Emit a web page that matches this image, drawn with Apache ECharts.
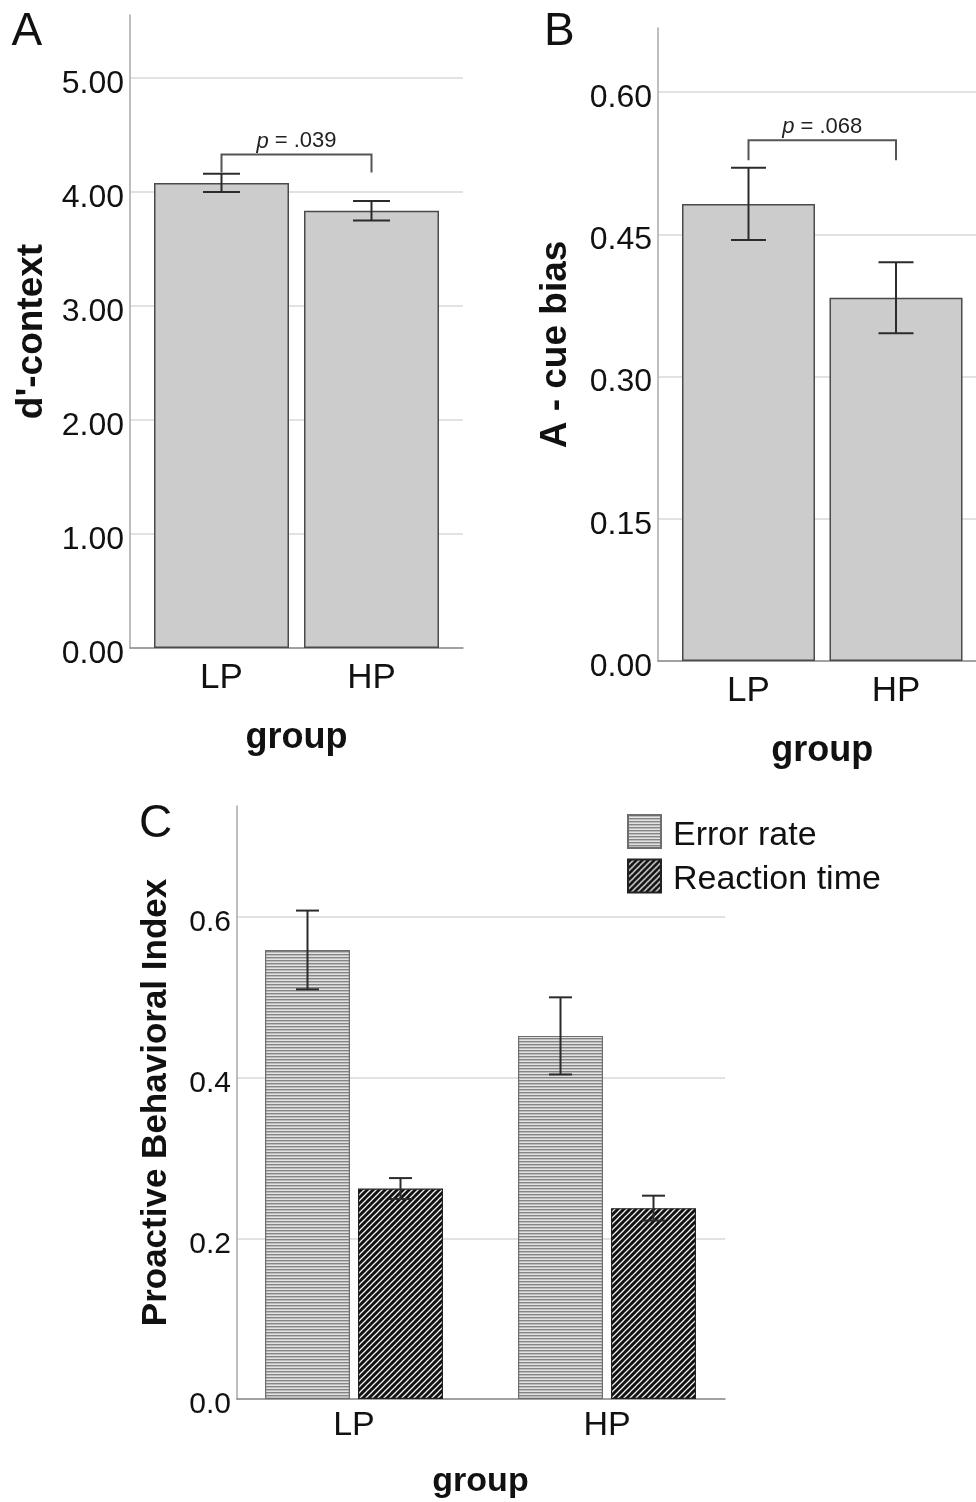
<!DOCTYPE html>
<html><head><meta charset="utf-8">
<script src="https://cdn.jsdelivr.net/npm/echarts@6/dist/echarts.min.js"></script>
<style>html,body{margin:0;padding:0;background:#fff}#c{width:976px;height:1502px}</style>
</head><body><div id="c"></div>
<script>
// ---------- data ----------
const categories = ['LP', 'HP'];
// Panel A: d'-context
const ticksA = [0, 1, 2, 3, 4, 5];
const meanA = [4.08, 3.835];
const seA = [0.08, 0.085];
const bracketA = [4.17, 4.33];   // leg end, bracket top
const pA = '.039';
// Panel B: A - cue bias
const ticksB = [0, 0.15, 0.30, 0.45, 0.60];
const meanB = [0.482, 0.383];
const seB = [0.038, 0.0375];
const bracketB = [0.528, 0.549];
const pB = '.068';
// Panel C: Proactive Behavioral Index
const ticksC = [0, 0.2, 0.4, 0.6];
const seriesNamesC = ['Error rate', 'Reaction time'];
const errorRate = [0.559, 0.452];
const errorRateSE = [0.049, 0.048];
const reactionTime = [0.262, 0.2376];
const reactionTimeSE = [0.013, 0.0155];

// ---------- styles ----------
const FONT = '"Liberation Sans", Arial, Helvetica, sans-serif';
const TXT = '#111';

function tile(kind) {
  const c = document.createElement('canvas');
  const g = c.getContext('2d');
  if (kind === 'h') {
    c.width = 4; c.height = 3;
    g.fillStyle = '#e2e2e2'; g.fillRect(0, 0, 4, 3);
    g.fillStyle = '#858585'; g.fillRect(0, 0, 4, 1.4);
  } else {
    const n = 6;
    c.width = n; c.height = n;
    g.fillStyle = '#111111'; g.fillRect(0, 0, n, n);
    g.strokeStyle = '#f2f2f2'; g.lineWidth = 1.25;
    [0, n, 2 * n].forEach(k => {
      g.beginPath(); g.moveTo(-1, k + 1); g.lineTo(n + 1, k - n - 1); g.stroke();
    });
  }
  return { image: c, repeat: 'repeat' };
}
const patH = tile('h');
const patD = tile('d');

function errRender(offset, capW) {
  return function (params, api) {
    const idx = api.value(0);
    const lo = api.coord([idx, api.value(1)]);
    const hi = api.coord([idx, api.value(2)]);
    const x = lo[0] + offset;
    const style = { stroke: '#2b2b2b', lineWidth: 2 };
    return { type: 'group', children: [
      { type: 'line', shape: { x1: x, y1: hi[1], x2: x, y2: lo[1] }, style },
      { type: 'line', shape: { x1: x - capW / 2, y1: hi[1], x2: x + capW / 2, y2: hi[1] }, style },
      { type: 'line', shape: { x1: x - capW / 2, y1: lo[1], x2: x + capW / 2, y2: lo[1] }, style }
    ] };
  };
}
function errData(m, s) { return m.map((v, i) => [i, v - s[i], v + s[i]]); }

function bracketRender(label) {
  return function (params, api) {
    const l = api.coord([api.value(0), api.value(3)]);
    const r = api.coord([api.value(1), api.value(3)]);
    const leg = api.coord([api.value(0), api.value(2)])[1];
    return { type: 'group', children: [
      { type: 'polyline', shape: { points: [[l[0], leg], [l[0], l[1]], [r[0], r[1]], [r[0], leg]] },
        style: { stroke: '#555', lineWidth: 2, fill: 'none' } },
      { type: 'text', x: (l[0] + r[0]) / 2, y: l[1] - 2,
        style: { text: '{i|p} = ' + label, fontSize: 22, fontFamily: FONT, fill: '#222',
          align: 'center', verticalAlign: 'bottom',
          rich: { i: { fontStyle: 'italic', fontSize: 22, fontFamily: FONT, fill: '#222' } } } }
    ] };
  };
}

// ---------- layout (px) ----------
const P = {
  A: { frame: { left: 130, top: 15, width: 333, height: 633 }, lab: { left: 130, top: 78, width: 333, height: 570 },
       bar: { left: 146.5, top: 78, width: 300, height: 570 }, yName: "d'-context", yGap: 80, xGap: 72, labMargin: 13,
       fTick: 32, fCat: 35, fName: 37 },
  B: { frame: { left: 658, top: 28, width: 400, height: 633 }, lab: { left: 658, top: 92, width: 400, height: 569 },
       bar: { left: 674.75, top: 92, width: 295, height: 569 }, yName: 'A - cue bias', yGap: 84, xGap: 72, labMargin: 13,
       fTick: 32, fCat: 35, fName: 37 },
  C: { frame: { left: 237, top: 806, width: 488, height: 593 }, lab: { left: 237, top: 917, width: 488, height: 482 },
       bar: { left: 227.5, top: 917, width: 506, height: 482 }, yName: 'Proactive Behavioral Index', yGap: 63, xGap: 66, labMargin: 10,
       fTick: 30, fCat: 34, fName: 35 }
};
const ticks = { A: ticksA, B: ticksB, C: ticksC };
const decimals = { A: 2, B: 2, C: 1 };

const grid = [], xAxis = [], yAxis = [];
['A', 'B', 'C'].forEach((k, pi) => {
  const p = P[k], t = ticks[k];
  const gi = pi * 3;
  grid.push(p.frame, p.lab, p.bar);
  // frame
  xAxis.push({ gridIndex: gi, type: 'value', min: 0, max: 1,
    axisLine: { show: true, onZero: false, lineStyle: { color: '#8c8c8c', width: 1.5 } },
    axisTick: { show: false }, axisLabel: { show: false }, splitLine: { show: false } });
  yAxis.push({ gridIndex: gi, type: 'value', min: 0, max: 1,
    axisLine: { show: true, onZero: false, lineStyle: { color: '#a8a8a8', width: 1.5 } },
    axisTick: { show: false }, axisLabel: { show: false }, splitLine: { show: false },
    name: p.yName, nameLocation: 'middle', nameGap: p.yGap,
    nameTextStyle: { fontSize: p.fName, fontWeight: 'bold', color: TXT, fontFamily: FONT } });
  // labels + gridlines
  xAxis.push({ gridIndex: gi + 1, type: 'value', min: 0, max: 1, show: false });
  yAxis.push({ gridIndex: gi + 1, type: 'value', min: t[0], max: t[t.length - 1], interval: t[1] - t[0],
    axisLine: { show: false }, axisTick: { show: false },
    axisLabel: { fontSize: p.fTick, color: TXT, fontFamily: FONT, margin: 6, verticalAlign: 'top', lineHeight: 12,
      formatter: v => v.toFixed(decimals[k]) },
    splitLine: { show: true, lineStyle: { color: '#d9d9d9', width: 1.5 } } });
  // bars
  xAxis.push({ gridIndex: gi + 2, type: 'category', data: categories,
    axisLine: { show: false }, axisTick: { show: false },
    axisLabel: { fontSize: p.fCat, color: TXT, fontFamily: FONT, margin: p.labMargin },
    name: 'group', nameLocation: 'middle', nameGap: p.xGap,
    nameTextStyle: { fontSize: p.fName - 1, fontWeight: 'bold', color: TXT, fontFamily: FONT } });
  yAxis.push({ gridIndex: gi + 2, type: 'value', min: t[0], max: t[t.length - 1], show: false });
});

const greyBar = { color: '#cccccc', borderColor: '#4a4a4a', borderWidth: 1.5 };
const series = [
  // Panel A
  { type: 'bar', xAxisIndex: 2, yAxisIndex: 2, data: meanA, barWidth: 135, itemStyle: greyBar, silent: true },
  { type: 'custom', xAxisIndex: 2, yAxisIndex: 2, data: errData(meanA, seA), renderItem: errRender(0, 37), z: 5,
    encode: { x: 0, y: [1, 2] } },
  { type: 'custom', xAxisIndex: 2, yAxisIndex: 2, data: [[0, 1, bracketA[0], bracketA[1]]], renderItem: bracketRender(pA), z: 5,
    encode: { x: [0, 1], y: [2, 3] } },
  // Panel B
  { type: 'bar', xAxisIndex: 5, yAxisIndex: 5, data: meanB, barWidth: 133, itemStyle: greyBar, silent: true },
  { type: 'custom', xAxisIndex: 5, yAxisIndex: 5, data: errData(meanB, seB), renderItem: errRender(0, 35), z: 5,
    encode: { x: 0, y: [1, 2] } },
  { type: 'custom', xAxisIndex: 5, yAxisIndex: 5, data: [[0, 1, bracketB[0], bracketB[1]]], renderItem: bracketRender(pB), z: 5,
    encode: { x: [0, 1], y: [2, 3] } },
  // Panel C
  { name: seriesNamesC[0], type: 'bar', xAxisIndex: 8, yAxisIndex: 8, data: errorRate, barWidth: 85, barGap: '9.4%',
    itemStyle: { color: patH, borderColor: '#6e6e6e', borderWidth: 1.2 }, silent: true },
  { name: seriesNamesC[1], type: 'bar', xAxisIndex: 8, yAxisIndex: 8, data: reactionTime, barWidth: 85, barGap: '9.4%',
    itemStyle: { color: patD, borderColor: '#222', borderWidth: 1.2 }, silent: true },
  { type: 'custom', xAxisIndex: 8, yAxisIndex: 8, data: errData(errorRate, errorRateSE), renderItem: errRender(-46.5, 23), z: 5,
    encode: { x: 0, y: [1, 2] } },
  { type: 'custom', xAxisIndex: 8, yAxisIndex: 8, data: errData(reactionTime, reactionTimeSE), renderItem: errRender(46.5, 23), z: 5,
    encode: { x: 0, y: [1, 2] } }
];

const chart = echarts.init(document.getElementById('c'), null, { renderer: 'canvas' });
chart.setOption({
  animation: false,
  backgroundColor: '#ffffff',
  textStyle: { fontFamily: FONT },
  grid, xAxis, yAxis, series,
  legend: { data: seriesNamesC, orient: 'vertical', left: 627, top: 814, padding: 0,
    itemWidth: 33, itemHeight: 33, itemGap: 6, icon: 'rect', selectedMode: false,
    formatter: name => '{t|' + name + '}',
    textStyle: { fontSize: 34, color: TXT, fontFamily: FONT,
      rich: { t: { fontSize: 34, color: TXT, fontFamily: FONT, padding: [8, 0, 0, 7] } } } },
  graphic: [
    { type: 'text', left: 11.5, top: 9.5, style: { text: 'A', fontSize: 46, fill: TXT, fontFamily: FONT } },
    { type: 'text', left: 544, top: 9.5, style: { text: 'B', fontSize: 46, fill: TXT, fontFamily: FONT } },
    { type: 'text', left: 139, top: 801.5, style: { text: 'C', fontSize: 46, fill: TXT, fontFamily: FONT } }
  ]
});
</script></body></html>
